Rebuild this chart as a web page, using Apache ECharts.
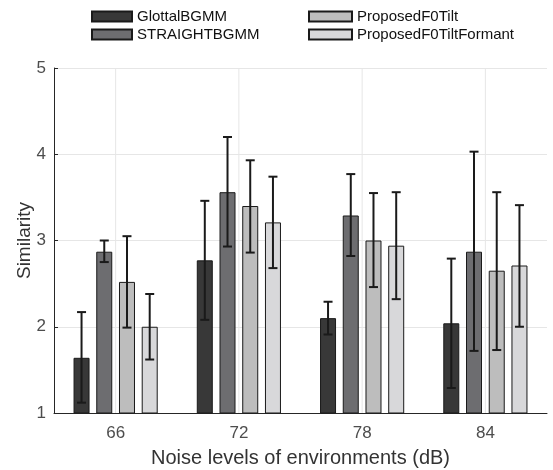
<!DOCTYPE html>
<html>
<head>
<meta charset="utf-8">
<script src="https://cdn.jsdelivr.net/npm/echarts@6/dist/echarts.min.js"></script>
<style>
  html, body { margin: 0; padding: 0; background: #fff; }
  #similarity { width: 553px; height: 470px; }
</style>
</head>
<body>
<div id="similarity"></div>
<script>
// noise levels (dB)
const categories = ['66', '72', '78', '84']
const seriesNames = ['GlottalBGMM', 'STRAIGHTBGMM', 'ProposedF0Tilt', 'ProposedF0TiltFormant']

// mean similarity per method
const glottalMean = [1.64, 2.77, 2.10, 2.04]
const straightMean = [2.87, 3.56, 3.29, 2.87]
const f0TiltMean = [2.52, 3.40, 3.00, 2.65]
const formantMean = [2.00, 3.21, 2.94, 2.71]

// error bar lower / upper ends
const glottalLow = [1.12, 2.08, 1.91, 1.29]
const glottalHigh = [2.17, 3.46, 2.29, 2.79]
const straightLow = [2.75, 2.93, 2.82, 1.72]
const straightHigh = [3.00, 4.20, 3.77, 4.03]
const f0TiltLow = [1.99, 2.86, 2.46, 1.73]
const f0TiltHigh = [3.05, 3.93, 3.55, 3.56]
const formantLow = [1.62, 2.68, 2.32, 2.00]
const formantHigh = [2.38, 3.74, 3.56, 3.41]

const yTicks = [1, 2, 3, 4, 5]

const means = [glottalMean, straightMean, f0TiltMean, formantMean]
const lows = [glottalLow, straightLow, f0TiltLow, formantLow]
const highs = [glottalHigh, straightHigh, f0TiltHigh, formantHigh]
const colors = ['#383838', '#6d6d70', '#bdbdbd', '#d8d8da']

const fontFamily = '"Liberation Sans", Arial, sans-serif'
const barWidth = 16
const barGap = 0.42
const step = barWidth * (1 + barGap)

const chart = echarts.init(document.getElementById('similarity'))

const barSeries = means.map((m, i) => ({
  name: seriesNames[i],
  type: 'bar',
  data: m,
  barWidth: barWidth,
  barGap: (barGap * 100) + '%',
  z: 2,
  itemStyle: {
    color: colors[i],
    borderColor: '#1a1a1a',
    borderWidth: 1
  }
}))

const errorSeries = lows.map((lo, i) => ({
  type: 'custom',
  z: 10,
  silent: true,
  data: lo.map((v, k) => [k, v, highs[i][k]]),
  renderItem: (params, api) => {
    const k = api.value(0)
    const pLo = api.coord([k, api.value(1)])
    const pHi = api.coord([k, api.value(2)])
    const x = pLo[0] + (i - 1.5) * step
    const cap = 4.5
    const style = { stroke: '#1a1a1a', lineWidth: 2 }
    return {
      type: 'group',
      children: [
        { type: 'line', shape: { x1: x, y1: pLo[1], x2: x, y2: pHi[1] }, style },
        { type: 'line', shape: { x1: x - cap, y1: pLo[1], x2: x + cap, y2: pLo[1] }, style },
        { type: 'line', shape: { x1: x - cap, y1: pHi[1], x2: x + cap, y2: pHi[1] }, style }
      ]
    }
  }
}))

// vertical grid lines at category centres, behind the bars
const vGridSeries = {
  type: 'custom',
  z: 1,
  silent: true,
  data: categories.map((c, k) => [k]),
  renderItem: (params, api) => {
    const k = api.value(0)
    const a = api.coord([k, yTicks[0]])
    const b = api.coord([k, yTicks[yTicks.length - 1]])
    return {
      type: 'line',
      shape: { x1: a[0], y1: a[1], x2: b[0], y2: b[1] },
      style: { stroke: '#e6e6e6', lineWidth: 1 }
    }
  }
}

const legendBase = {
  orient: 'vertical',
  top: 9,
  padding: 0,
  itemHeight: 10,
  itemGap: 3,
  icon: 'rect',
  textStyle: { fontFamily, fontSize: 15, color: '#111' }
}

const option = {
  animation: false,
  textStyle: { fontFamily },
  legend: [
    Object.assign({}, legendBase, { left: 91, itemWidth: 40, data: [seriesNames[0], seriesNames[1]] }),
    Object.assign({}, legendBase, { left: 308, itemWidth: 43, data: [seriesNames[2], seriesNames[3]] })
  ],
  grid: {
    left: 54,
    right: 6,
    top: 68,
    bottom: 57,
    outerBoundsMode: 'none'
  },
  xAxis: {
    type: 'category',
    data: categories,
    name: 'Noise levels of environments (dB)',
    nameLocation: 'middle',
    nameGap: 35,
    nameMoveOverlap: false,
    nameTextStyle: { fontSize: 20, color: '#333', fontFamily },
    axisLine: { lineStyle: { color: '#262626', width: 1 } },
    axisTick: { inside: true, alignWithLabel: true, length: 4, lineStyle: { color: '#999' } },
    axisLabel: { fontSize: 17, color: '#4d4d4d', margin: 12, fontFamily },
    splitLine: { show: false }
  },
  yAxis: {
    type: 'value',
    min: yTicks[0],
    max: yTicks[yTicks.length - 1],
    interval: 1,
    name: 'Similarity',
    nameLocation: 'middle',
    nameGap: 20,
    nameMoveOverlap: false,
    nameTextStyle: { fontSize: 19, color: '#333', fontFamily },
    axisLine: { show: true, lineStyle: { color: '#262626', width: 1 } },
    axisTick: { show: true, inside: true, length: 4, lineStyle: { color: '#262626' } },
    axisLabel: { fontSize: 17, color: '#4d4d4d', margin: 8, fontFamily },
    splitLine: { lineStyle: { color: '#e6e6e6', width: 1 } }
  },
  series: [vGridSeries].concat(barSeries, errorSeries)
}

chart.setOption(option)
</script>
</body>
</html>
